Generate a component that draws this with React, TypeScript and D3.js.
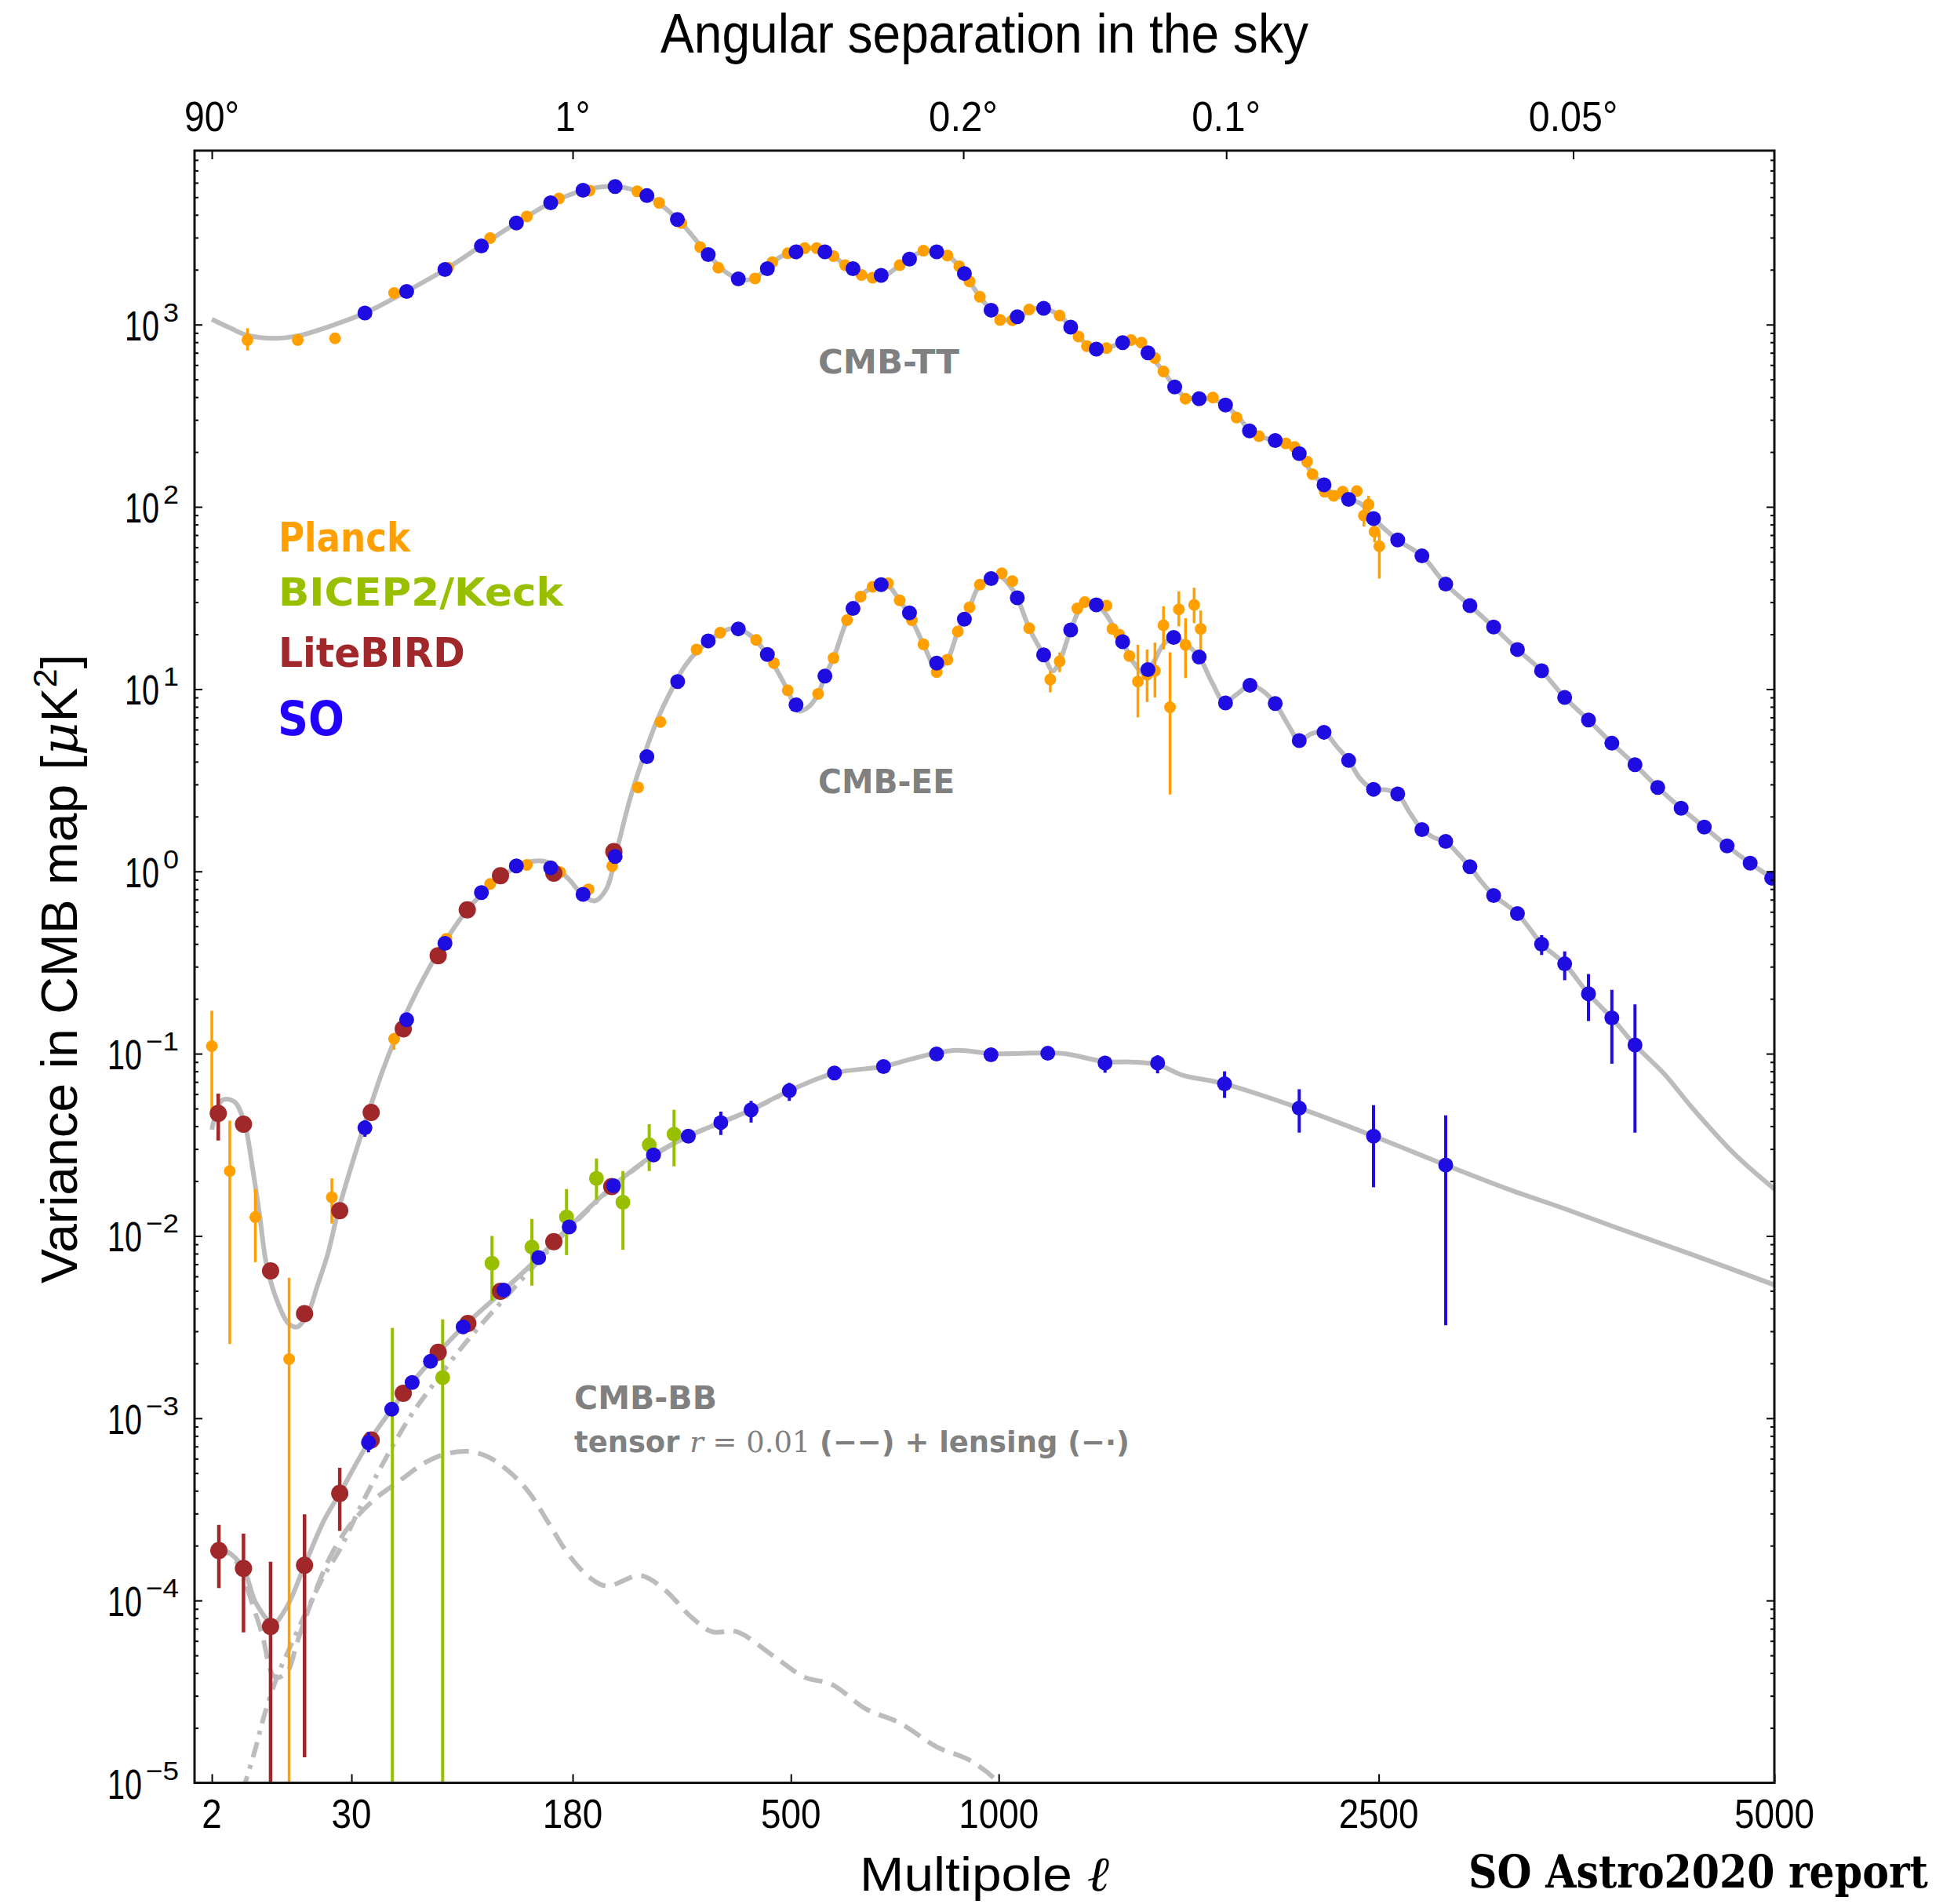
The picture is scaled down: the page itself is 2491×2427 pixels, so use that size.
import React, { useEffect, useRef } from 'react';
import * as d3 from 'd3';

const W = 2491;
const H = 2427;
const frame = { left: 248, right: 2262, top: 192, bottom: 2272.5 };

// theory spectra: [ell, D_ell in uK^2]
const ttTheory = [
  [2, 1069], [3.5, 960], [5.5, 873], [10, 841], [15, 873], [24.4, 1000], [35, 1157], [53, 1510], [75, 2000],
  [99, 2695], [127, 3606], [158, 4652], [191, 5440], [227, 5740], [268, 5110], [310, 3775], [356, 2420],
  [385, 1930], [410, 1760], [434, 1800], [465, 2197], [494, 2461], [530, 2620], [555, 2610], [586, 2373],
  [611, 2118], [647, 1872], [680, 1820], [705, 1880], [736, 2118], [770, 2400], [805, 2540], [830, 2506],
  [857, 2394], [889, 2089], [917, 1726], [946, 1420], [978, 1199], [1010, 1070], [1040, 1060], [1070, 1130],
  [1100, 1215], [1136, 1227], [1187, 1120], [1223, 968], [1260, 820], [1300, 735], [1344, 743], [1401, 796],
  [1431, 812], [1469, 780], [1493, 700], [1551, 553], [1594, 455], [1636, 400], [1690, 392], [1745, 390],
  [1793, 362], [1856, 306], [1898, 261], [1939, 244], [2010, 231], [2057, 223], [2118, 196], [2179, 152],
  [2233, 132], [2279, 117], [2351, 110], [2410, 104], [2474, 86.3], [2597, 65.8], [2724, 53.8], [2852, 37.7],
  [2986, 28.7], [3121, 21.9], [3260, 16.5], [3405, 12.6], [3547, 9.0], [3697, 6.77], [3848, 5.05], [4001, 3.85],
  [4155, 2.89], [4317, 2.22], [4481, 1.75], [4646, 1.38], [4817, 1.11], [5000, 0.9],
];

const eeTheory = [
  [2, 0.0383], [2.8, 0.0556], [3.95, 0.0546], [5.1, 0.0419], [6.2, 0.0232], [7.2, 0.0129], [8.3, 0.0069],
  [10.4, 0.0042], [12.4, 0.0033], [14.3, 0.00317], [16.7, 0.0037], [19.4, 0.0054], [22.3, 0.008], [25.4, 0.0135],
  [30, 0.0243], [35.1, 0.0419], [42.1, 0.0792], [50.7, 0.143], [60.4, 0.236], [72, 0.373], [89.5, 0.615],
  [109, 0.865], [134, 1.11], [156, 1.12], [176, 0.906], [191, 0.738], [204, 0.689], [217.5, 0.807], [230, 1.333],
  [246, 2.52], [264, 4.36], [282, 6.86], [301, 9.87], [320, 13.3], [340, 16.3], [358, 18.4], [375, 20.4],
  [400, 21.6], [425, 19.8], [456, 15.5], [475, 12.5], [494, 9.85], [515, 7.6], [535, 8.0], [554, 9.41],
  [568, 11.8], [586, 14.8], [615, 23.9], [645, 32.2], [672, 36.4], [700, 38.3], [736, 30.7], [766, 23.9],
  [795, 17.6], [829, 13.0], [857, 14.5], [885, 20.7], [917, 28.1], [946, 37.4], [978, 40.4], [1005, 41.5],
  [1030, 37.5], [1055, 31.7], [1091, 21.6], [1136, 15.4], [1165, 12.6], [1187, 14.2], [1223, 21.1], [1265, 29.0],
  [1309, 29.0], [1340, 26.0], [1365, 22.5], [1401, 18.2], [1440, 14.0], [1475, 12.3], [1510, 13.8], [1550, 17.5],
  [1590, 19.2], [1630, 18.0], [1690, 15.0], [1740, 11.0], [1793, 8.5], [1845, 9.4], [1900, 10.5], [1950, 9.9],
  [2010, 8.34], [2070, 6.3], [2118, 5.22], [2175, 5.7], [2233, 5.8], [2290, 4.9], [2351, 4.06], [2410, 3.2],
  [2474, 2.82], [2540, 2.8], [2597, 2.66], [2660, 2.1], [2724, 1.7], [2790, 1.53], [2852, 1.46], [2920, 1.25],
  [2986, 1.061], [3050, 0.88], [3121, 0.738], [3190, 0.66], [3260, 0.5875], [3330, 0.49], [3405, 0.399],
  [3547, 0.311], [3697, 0.213], [3848, 0.157], [4001, 0.1116], [4199, 0.0775], [4397, 0.0503], [4706, 0.0279],
  [5000, 0.0181],
];

// BB: total (tensor r=0.01 + lensing), tensor only, lensing only
const bbTotal = [
  [2, 1.97e-4], [3.1, 1.88e-4], [4.9, 1.53e-4], [6.7, 9.6e-5], [9.4, 7.5e-5], [12, 9.2e-5], [16, 1.56e-4],
  [21.3, 2.78e-4], [26, 3.87e-4], [36.4, 7.36e-4], [46.4, 1.12e-3], [56.4, 1.57e-3], [66.4, 2.05e-3],
  [86.7, 3.17e-3], [116.7, 5.04e-3], [146.7, 7.61e-3], [176.4, 0.0112], [225.6, 0.0189], [276.4, 0.0278],
  [325.6, 0.0353], [376, 0.0419], [427, 0.0492], [497, 0.0626], [588, 0.0783], [697.5, 0.085], [761, 0.093],
  [829, 0.101], [885, 0.1045], [978, 0.1], [1040, 0.1], [1149, 0.101], [1209, 0.0996], [1339, 0.0905],
  [1431, 0.09], [1529, 0.087], [1623, 0.0764], [1793, 0.0683], [2118, 0.0503], [2474, 0.0353], [2852, 0.0245],
  [3203, 0.0181], [3547, 0.0141], [3865, 0.0112], [4347, 8.15e-3], [5000, 5.39e-3],
];

const bbTensor = [
  [2, 1.95e-4], [3.1, 1.86e-4], [4.9, 1.45e-4], [5.54, 1.15e-4], [7.47, 6.74e-5], [9.75, 3.79e-5],
  [12.05, 4.05e-5], [14.26, 5.9e-5], [17.55, 9.6e-5], [23.3, 1.78e-4], [30, 2.66e-4], [39.2, 3.62e-4],
  [49.9, 4.52e-4], [64.1, 5.76e-4], [75.9, 6.38e-4], [89.5, 6.58e-4], [104, 6.16e-4], [120, 5.16e-4],
  [137.4, 3.96e-4], [156, 2.66e-4], [176, 1.78e-4], [198, 1.34e-4], [217.5, 1.2e-4], [259, 1.37e-4],
  [291, 1.15e-4], [331, 8.05e-5], [362, 6.74e-5], [402, 6.74e-5], [468, 4.94e-5], [527, 3.79e-5],
  [582, 3.47e-5], [657, 2.54e-5], [736, 2.13e-5], [830, 1.57e-5], [914, 1.34e-5], [989, 1.05e-5], [1030, 8.5e-6],
];

const bbLensing = [
  [4.9, 9e-6], [6.5, 1.5e-5], [8.0, 2.4e-5], [10.4, 4.0e-5], [12.5, 5.4e-5], [16, 8.3e-5], [21, 1.35e-4],
  [26, 1.9e-4], [32.5, 3.1e-4], [36.4, 4.0e-4], [46.4, 6.9e-4], [56.4, 1.06e-3], [66.4, 1.46e-3],
  [86.7, 2.5e-3], [116.7, 4.5e-3], [146.7, 7.3e-3], [176.4, 0.011], [225.6, 0.0187], [276.4, 0.0276],
  [325.6, 0.0352], [376, 0.0418], [427, 0.0491], [497, 0.0625],
];

// measurements: [ell, D_ell, errLow, errHigh]
const planckTT = [
  [5.5, 823, 721, 955], [14.4, 823], [24.5, 841], [47.5, 1490], [77, 2050], [106, 2979], [136, 3918],
  [166, 4913], [198, 5430], [255, 5383], [284, 4652], [315.5, 3606], [343.5, 2660], [372, 2051], [434, 1791],
  [465, 2197], [494, 2461], [527, 2625], [551, 2625], [586, 2373], [611, 2118], [647, 1872], [672, 1806],
  [736, 2118], [795, 2541], [857, 2394], [889, 2089], [917, 1726], [946, 1420], [1004, 1060], [1040, 1056],
  [1091, 1210], [1187, 1120], [1249, 860], [1277, 761], [1344, 743], [1431, 822], [1469, 796], [1519, 654],
  [1551, 553], [1636, 392], [1745, 398], [1843, 309], [1939, 244], [2057, 223], [2097, 213], [2154, 177],
  [2179, 151], [2237, 121], [2279, 115], [2322, 121], [2391, 122], [2426, 89.5, 78, 103], [2449, 103, 92, 115],
  [2479, 73, 64, 83], [2503, 60.8, 40.4, 71.6],
];

const soTT = [
  [35, 1156], [53.6, 1520], [75, 2005], [99.5, 2697], [127, 3606], [158, 4652], [191, 5458], [227.5, 5716],
  [267.5, 5097], [309.6, 3775], [356, 2420], [405, 1782], [456, 2024], [510, 2506], [568, 2506], [628, 2024],
  [692, 1862], [760, 2287], [829, 2506], [903, 1906], [978, 1199], [1055, 1104], [1136, 1227], [1223, 968],
  [1309, 733], [1401, 796], [1493, 700], [1594, 455], [1690, 392], [1797, 362], [1898, 261], [2010, 231],
  [2118, 196], [2233, 132], [2351, 110], [2474, 86.3], [2597, 65.8], [2724, 53.8], [2852, 37.7], [2986, 28.7],
  [3121, 21.9], [3260, 16.5], [3405, 12.6], [3547, 9.0], [3697, 6.77], [3848, 5.05], [4001, 3.85], [4155, 2.89],
  [4317, 2.22], [4481, 1.75], [4646, 1.38], [4817, 1.11], [4980, 0.918],
];

const planckEE = [
  [2, 0.11, 0.0492, 0.172], [3.5, 0.0227, 0.00255, 0.0429], [6.56, 0.0127, 0.00718, 0.0181],
  [12.5, 0.00211, 1e-6, 0.00589], [23.5, 0.0163, 0.0117, 0.0207], [47.5, 0.1206, 0.105, 0.13], [75.9, 0.427],
  [106, 0.853], [136, 1.086], [167, 0.991], [197, 0.797], [224, 1.07], [256, 2.89], [285.7, 6.61], [338, 16.5],
  [375, 20.4], [436, 18.6], [468, 13.9], [494, 9.85], [554, 9.41], [586, 14.8], [615, 23.9], [645, 32.2],
  [672, 36.4], [708, 38.1], [736, 30.7], [766, 23.9], [795, 17.6], [829, 12.4], [857, 14.5], [885, 20.7],
  [917, 28.1], [946, 37.4], [1009, 43.2], [1040, 39.1], [1091, 21.6], [1157, 11.3, 9.6, 12.6],
  [1187, 14.2, 12.4, 15.9], [1245, 27.7], [1270, 30.0], [1344, 28.7], [1365, 21.4], [1389, 19.9], [1425, 15.2],
  [1456, 11.0, 7.0, 17.5], [1490, 12.0, 8.5, 16.5], [1519, 12.6, 9.0, 18.0], [1551, 22.4, 16.5, 28.5],
  [1576, 7.95, 2.64, 15.9], [1610, 27.4, 22.1, 34.4], [1636, 17.5, 11.5, 24.5], [1670, 29.0, 23, 36],
  [1696, 21.4, 15.5, 27],
];

const soEE = [
  [35, 0.0392, 0.035, 0.043], [53.6, 0.1535], [75, 0.403], [99.5, 0.766], [127, 1.071], [158, 1.047],
  [191, 0.748], [227.5, 1.206], [267.5, 4.26], [310, 11.0], [356, 18.4], [405, 21.4], [456, 15.5], [510, 8.2],
  [568, 11.8], [628, 27.7], [692, 37.4], [760, 26.2], [829, 13.9], [903, 24.2], [978, 40.4], [1055, 31.7],
  [1136, 15.4], [1223, 21.1], [1309, 29.0], [1401, 18.2], [1493, 12.8], [1590, 19.2], [1690, 15.0], [1797, 8.4],
  [1900, 10.5], [2010, 8.34], [2118, 5.22], [2233, 5.8], [2351, 4.06], [2474, 2.82], [2597, 2.66], [2724, 1.696],
  [2852, 1.46], [2986, 1.061], [3121, 0.738], [3260, 0.5875], [3405, 0.399, 0.348, 0.447],
  [3547, 0.311, 0.253, 0.364], [3697, 0.213, 0.151, 0.2735], [3848, 0.157, 0.0881, 0.224],
  [4001, 0.1116, 0.0369, 0.1866],
];

const litebirdEE = [
  [2.48, 0.047, 0.0334, 0.0604], [5.0, 0.041], [8.96, 6.43e-3], [16.0, 3.75e-3], [26.0, 0.01376], [37.5, 0.0476],
  [51.9, 0.1369], [70.9, 0.345], [89.5, 0.615], [114, 0.947], [161, 0.978], [226, 1.285],
];

const litebirdBB = [
  [2.53, 1.88e-4, 1.17e-4, 2.6e-4], [5.0, 1.5e-4, 6.68e-5, 2.33e-4], [8.96, 7.2e-5, 1e-6, 1.63e-4],
  [16.0, 1.56e-4, 1.38e-5, 2.97e-4], [26.0, 3.87e-4, 2.41e-4, 5.35e-4], [37.5, 7.6e-4], [51.9, 1.37e-3],
  [70.9, 2.3e-3], [89.9, 3.31e-3], [114, 4.97e-3], [161, 9.3e-3], [223.5, 0.01866],
];

const bicepBB = [
  [46.7, 0, 1e-6, 3.13e-3], [73.6, 1.67e-3, 1e-6, 3.49e-3], [107.4, 7.08e-3, 4.41e-3, 0.01],
  [140.5, 8.69e-3, 5.34e-3, 0.0124], [173.7, 0.0127, 7.85e-3, 0.0181], [205.8, 0.0207, 0.0158, 0.0266],
  [237, 0.0153, 8.4e-3, 0.0227], [270.6, 0.0316, 0.0227, 0.041], [304.8, 0.0362, 0.0241, 0.0492],
];

const soBB = [
  [36.4, 7.36e-4, 6.5e-4, 8.4e-4], [46.4, 1.12e-3], [56.4, 1.57e-3], [66.4, 2.05e-3], [86.7, 3.17e-3],
  [116.7, 5.04e-3], [146.7, 7.61e-3], [176.4, 0.0112], [225.6, 0.01886], [276.4, 0.0278], [325.6, 0.0353],
  [376, 0.0419, 0.0358, 0.0481], [427, 0.0492, 0.0419, 0.0551], [497, 0.0626, 0.0551, 0.0692], [588, 0.0783],
  [697.5, 0.085], [828.6, 0.0996], [977.6, 0.0987], [1149, 0.1005], [1339, 0.0889, 0.0786, 0.0973],
  [1529, 0.0889, 0.078, 0.098], [1793, 0.0683, 0.0572, 0.08], [2118, 0.0503, 0.0369, 0.0638],
  [2474, 0.0353, 0.0185, 0.0522], [2852, 0.02453, 0.00324, 0.0459],
];

const bottomTicks = [2, 30, 180, 500, 1000, 2500, 5000];
const topTicksDeg = [90, 1, 0.2, 0.1, 0.05];
const topTickLabels = ['90°', '1°', '0.2°', '0.1°', '0.05°'];
const yExponents = [-5, -4, -3, -2, -1, 0, 1, 2, 3];

const colors = {
  planck: '#ffa000',
  bicep: '#99c000',
  litebird: '#a0282a',
  so: '#1e0ce0',
  soText: '#2200ff',
  theory: '#bcbcbc',
  label: '#808080',
};

// rough width of a tick label, so text can be squeezed to the narrow font of the original
const labelWidth = (s: string, digit: number) =>
  s.split('').reduce((acc, ch) => acc + (ch === '.' ? digit * 0.7 : ch === '°' ? digit * 0.75 : digit), 0);

function App() {
  const svgRef = useRef<SVGSVGElement>(null);

  useEffect(() => {
    const svg = d3.select(svgRef.current);
    svg.selectAll('*').remove();

    const x = d3.scalePow().exponent(0.4).domain([1, 5000]).range([frame.left, frame.right]);
    const y = d3.scaleLog().domain([1e-5, 9000]).range([frame.bottom, frame.top]);

    svg
      .append('defs')
      .append('clipPath')
      .attr('id', 'plot-clip')
      .append('rect')
      .attr('x', frame.left)
      .attr('y', frame.top)
      .attr('width', frame.right - frame.left)
      .attr('height', frame.bottom - frame.top);

    const plot = svg.append('g').attr('clip-path', 'url(#plot-clip)');

    const line = d3
      .line<number[]>()
      .x((d) => x(d[0]))
      .y((d) => y(d[1]))
      .curve(d3.curveCatmullRom.alpha(0.5));

    const drawCurve = (rows: number[][], dash: string | null) => {
      plot
        .append('path')
        .datum(rows)
        .attr('d', line)
        .attr('fill', 'none')
        .attr('stroke', colors.theory)
        .attr('stroke-width', 6)
        .attr('stroke-dasharray', dash)
        .attr('stroke-linejoin', 'round');
    };

    drawCurve(bbLensing, '20 10 5 10');
    drawCurve(bbTensor, '24 12');
    drawCurve(bbTotal, null);
    drawCurve(eeTheory, null);
    drawCurve(ttTheory, null);

    const drawSeries = (rows: number[][], color: string, r: number, errW: number) => {
      const g = plot.append('g');
      g.selectAll('line')
        .data(rows.filter((d) => d.length > 2))
        .enter()
        .append('line')
        .attr('x1', (d) => x(d[0]))
        .attr('x2', (d) => x(d[0]))
        .attr('y1', (d) => y(d[2]))
        .attr('y2', (d) => y(d[3]))
        .attr('stroke', color)
        .attr('stroke-width', errW);
      g.selectAll('circle')
        .data(rows.filter((d) => d[1] > 0))
        .enter()
        .append('circle')
        .attr('cx', (d) => x(d[0]))
        .attr('cy', (d) => y(d[1]))
        .attr('r', r)
        .attr('fill', color);
    };

    drawSeries(planckTT, colors.planck, 7.5, 3.5);
    drawSeries(planckEE, colors.planck, 7.5, 3.5);
    drawSeries(bicepBB, colors.bicep, 9.5, 4);
    drawSeries(litebirdEE, colors.litebird, 11, 4.5);
    drawSeries(litebirdBB, colors.litebird, 11, 4.5);
    drawSeries(soTT, colors.so, 9.5, 4);
    drawSeries(soEE, colors.so, 9.5, 4);
    drawSeries(soBB, colors.so, 9.5, 4);

    // frame and ticks (pointing inward)
    const yMajor = yExponents.map((k) => Math.pow(10, k));
    const yMinor = yMajor.flatMap((v) => d3.range(2, 10).map((m) => m * v)).filter((v) => v < 9000);

    const styleAxis = (g: any) => {
      g.select('.domain').remove();
      g.selectAll('line').attr('stroke', '#000').attr('stroke-width', 2);
      g.selectAll('text').remove();
    };

    svg.append('g').attr('transform', `translate(${frame.left},0)`)
      .call(d3.axisLeft(y).tickValues(yMajor).tickSize(-10).tickSizeOuter(0)).call(styleAxis);
    svg.append('g').attr('transform', `translate(${frame.left},0)`)
      .call(d3.axisLeft(y).tickValues(yMinor).tickSize(-5).tickSizeOuter(0)).call(styleAxis);
    svg.append('g').attr('transform', `translate(${frame.right},0)`)
      .call(d3.axisRight(y).tickValues(yMajor).tickSize(-10).tickSizeOuter(0)).call(styleAxis);
    svg.append('g').attr('transform', `translate(${frame.right},0)`)
      .call(d3.axisRight(y).tickValues(yMinor).tickSize(-5).tickSizeOuter(0)).call(styleAxis);
    svg.append('g').attr('transform', `translate(0,${frame.bottom})`)
      .call(d3.axisBottom(x).tickValues(bottomTicks).tickSize(-11).tickSizeOuter(0)).call(styleAxis);
    svg.append('g').attr('transform', `translate(0,${frame.top})`)
      .call(d3.axisTop(x).tickValues(topTicksDeg.map((t) => 180 / t)).tickSize(-11).tickSizeOuter(0)).call(styleAxis);

    svg
      .append('rect')
      .attr('x', frame.left)
      .attr('y', frame.top)
      .attr('width', frame.right - frame.left)
      .attr('height', frame.bottom - frame.top)
      .attr('fill', 'none')
      .attr('stroke', '#111')
      .attr('stroke-width', 3);

    const sans = 'Liberation Sans, Arial, sans-serif';
    const boldSans = 'DejaVu Sans, sans-serif';
    const serif = 'DejaVu Serif, serif';

    // squeeze a text to the measured width of the original by a horizontal scale
    const fit = (t: any, tx: number, ty: number, width: number, rotate = 0) => {
      const natural = (t.node() as SVGTextElement).getComputedTextLength() || width;
      const sx = width / natural;
      t.attr('transform', `translate(${tx},${ty})${rotate ? ` rotate(${rotate})` : ''} scale(${sx},1)`);
      return t;
    };

    const makeText = (
      size: number,
      opts: { anchor?: string; family?: string; weight?: string; fill?: string } = {}
    ) =>
      svg
        .append('text')
        .attr('x', 0)
        .attr('y', 0)
        .attr('text-anchor', opts.anchor || 'start')
        .attr('font-family', opts.family || sans)
        .attr('font-weight', opts.weight || 'normal')
        .attr('font-size', size)
        .attr('fill', opts.fill || '#000');

    const addText = (
      tx: number, ty: number, s: string, size: number, width: number,
      opts: { anchor?: string; family?: string; weight?: string; fill?: string } = {}
    ) => fit(makeText(size, opts).text(s), tx, ty, width);

    // bottom tick labels
    bottomTicks.forEach((t) => {
      const s = String(t);
      addText(x(t), 2330, s, 51, labelWidth(s, 25.5), { anchor: 'middle' });
    });

    // top tick labels (angular scale, ell = 180 / theta)
    topTicksDeg.forEach((t, i) => {
      const s = topTickLabels[i];
      addText(x(180 / t), 167, s, 54, labelWidth(s, 25.5), { anchor: 'middle' });
    });

    // left tick labels 10^k
    yExponents.forEach((k) => {
      const yy = y(Math.pow(10, k));
      const sup = k < 0 ? '−' + -k : String(k);
      const supW = k < 0 ? 42 : 20;
      addText(228, yy - 4, sup, 34, supW, { anchor: 'end' });
      addText(228 - supW - 5, yy + 20, '10', 54, 44, { anchor: 'end' });
    });

    addText((frame.left + frame.right) / 2, 67, 'Angular separation in the sky', 70, 826, { anchor: 'middle' });

    const xl = makeText(62, { anchor: 'middle' });
    xl.append('tspan').text('Multipole ');
    xl.append('tspan').attr('font-family', serif).attr('font-style', 'italic').text('ℓ');
    fit(xl, 1255, 2410, 318);

    const yl = makeText(64, { anchor: 'middle' });
    yl.append('tspan').text('Variance in CMB map [');
    yl.append('tspan').attr('font-family', serif).attr('font-style', 'italic').text('μ');
    yl.append('tspan').text('K');
    yl.append('tspan').attr('font-size', 42).attr('dy', -26).text('2');
    yl.append('tspan').attr('dy', 26).text(']');
    fit(yl, 98, 1235, 802, -90);

    addText(1872, 2406, 'SO Astro2020 report', 57, 586, { family: serif, weight: 'bold' });

    // legend
    addText(355, 703, 'Planck', 52, 168, { family: boldSans, weight: 'bold', fill: colors.planck });
    addText(355, 772, 'BICEP2/Keck', 50, 363, { family: boldSans, weight: 'bold', fill: colors.bicep });
    addText(355, 850, 'LiteBIRD', 52, 238, { family: boldSans, weight: 'bold', fill: colors.litebird });
    addText(354, 937, 'SO', 60, 85, { family: boldSans, weight: 'bold', fill: colors.soText });

    // curve labels
    addText(1043, 476, 'CMB-TT', 42, 180, { family: boldSans, weight: 'bold', fill: colors.label });
    addText(1043, 1011, 'CMB-EE', 42, 174, { family: boldSans, weight: 'bold', fill: colors.label });
    addText(732, 1796, 'CMB-BB', 40, 182, { family: boldSans, weight: 'bold', fill: colors.label });

    const bbNote = makeText(38, { fill: colors.label });
    bbNote.append('tspan').attr('font-family', boldSans).attr('font-weight', 'bold').text('tensor ');
    bbNote.append('tspan').attr('font-family', serif).attr('font-style', 'italic').text('r');
    bbNote.append('tspan').attr('font-family', serif).text(' = 0.01 ');
    bbNote.append('tspan').attr('font-family', boldSans).attr('font-weight', 'bold').text('(−−) + lensing (−·)');
    fit(bbNote, 732, 1851, 708);
  }, []);

  return (
    <svg
      ref={svgRef}
      width={W}
      height={H}
      style={{ position: 'absolute', left: 0, top: 0, background: '#fff', display: 'block' }}
    />
  );
}

export default App;
